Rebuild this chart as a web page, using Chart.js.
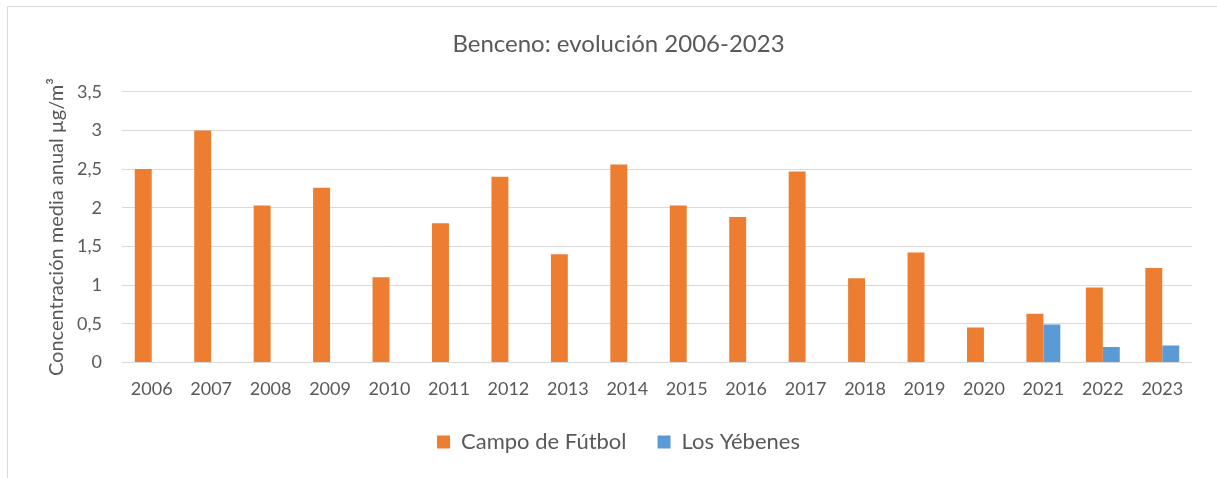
<!DOCTYPE html>
<html>
<head>
<meta charset="utf-8">
<script src="https://cdn.jsdelivr.net/npm/chart.js@4"></script>
<style>
    html, body { margin: 0; padding: 0; background: #fff; }
    #wrap { width: 1217px; height: 478px; position: relative; }
</style>
</head>
<body>
<div id="wrap"><canvas id="chart"></canvas></div>
<script>
const years = ['2006', '2007', '2008', '2009', '2010', '2011', '2012', '2013', '2014',
    '2015', '2016', '2017', '2018', '2019', '2020', '2021', '2022', '2023'];
const campoFutbol = [2.5, 3.0, 2.03, 2.26, 1.10, 1.80, 2.40, 1.40, 2.56,
    2.03, 1.88, 2.47, 1.09, 1.42, 0.45, 0.63, 0.97, 1.22];
const losYebenes = [null, null, null, null, null, null, null, null, null,
    null, null, null, null, null, null, 0.49, 0.20, 0.22];
const seriesNames = ['Campo de Fútbol', 'Los Yébenes'];

const textColor = '#595959';
const gridColor = '#d9d9d9';

// thin grey frame round the chart (right and bottom edges fall outside the picture)
const frame = {
    id: 'frame',
    beforeDraw(chart) {
        const ctx = chart.ctx;
        ctx.save();
        ctx.strokeStyle = gridColor;
        ctx.lineWidth = 1;
        ctx.strokeRect(7.5, 6.5, 1230, 490);
        ctx.restore();
    }
};

new Chart(document.getElementById('chart'), {
    type: 'bar',
    data: {
        labels: years,
        datasets: [
            { label: seriesNames[0], data: campoFutbol, backgroundColor: '#ed7d31' },
            { label: seriesNames[1], data: losYebenes, backgroundColor: '#5b9bd5' }
        ]
    },
    options: {
        responsive: true,
        maintainAspectRatio: false,
        animation: false,
        datasets: { bar: { categoryPercentage: 0.57, barPercentage: 1 } },
        layout: { padding: { left: 45, right: 25, top: 0, bottom: 15 } },
        plugins: {
            title: {
                display: true,
                text: 'Benceno: evolución 2006-2023',
                color: textColor,
                font: { family: 'Lato', size: 24, weight: 'normal' },
                padding: { top: 30, bottom: 33 }
            },
            legend: {
                position: 'bottom',
                labels: {
                    color: textColor,
                    font: { family: 'Lato', size: 22 },
                    boxWidth: 13,
                    boxHeight: 13,
                    padding: 31
                }
            },
            tooltip: { enabled: false }
        },
        scales: {
            x: {
                grid: { display: false },
                border: { display: false },
                ticks: { color: textColor, font: { family: 'Lato', size: 18 }, padding: 8 },
                afterFit: scale => { scale.height -= 8; }
            },
            y: {
                min: 0,
                max: 3.5,
                grid: { color: gridColor, drawTicks: false },
                border: { display: false },
                ticks: {
                    stepSize: 0.5,
                    color: textColor,
                    font: { family: 'Lato', size: 18 },
                    padding: 20,
                    callback: v => String(v).replace('.', ',')
                },
                title: {
                    display: true,
                    text: 'Concentración media anual µg/m³',
                    color: textColor,
                    font: { family: 'Lato', size: 20 },
                    padding: { top: 0, bottom: 0 }
                },
                afterFit: scale => { scale.width = 77; }
            }
        }
    },
    plugins: [frame]
});
</script>
</body>
</html>
